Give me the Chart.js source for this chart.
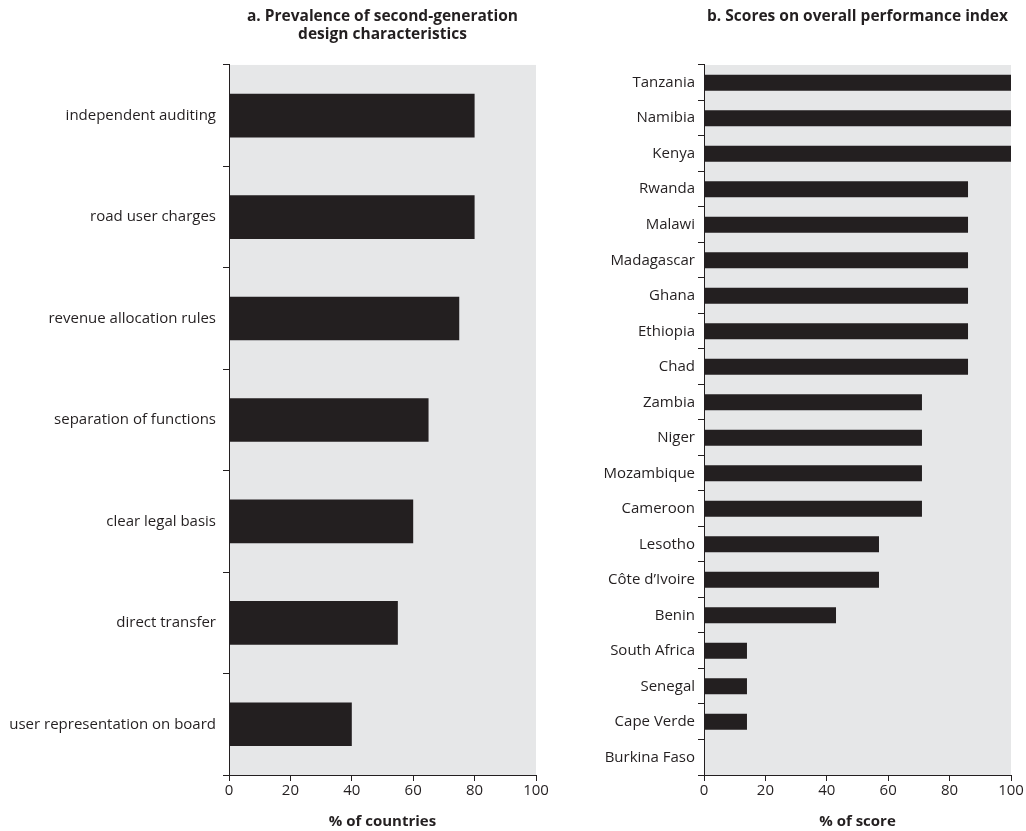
<!DOCTYPE html>
<html>
<head>
<meta charset="utf-8">
<script src="https://cdn.jsdelivr.net/npm/chart.js@4"></script>
<style>
  html, body { margin: 0; padding: 0; background: #fff; }
  #wrap { position: relative; width: 1026px; height: 831px; }
  #boxA { position: absolute; left: 0; top: 0; width: 560px; height: 831px; }
  #boxB { position: absolute; left: 540px; top: 0; width: 486px; height: 831px; }
</style>
</head>
<body>
<div id="wrap">
  <div id="boxA"><canvas id="canvasA"></canvas></div>
  <div id="boxB"><canvas id="canvasB"></canvas></div>
</div>
<script>
// panel a
var featureLabels = [
  'independent auditing',
  'road user charges',
  'revenue allocation rules',
  'separation of functions',
  'clear legal basis',
  'direct transfer',
  'user representation on board'
];
var featureValues = [80, 80, 75, 65, 60, 55, 40];

// panel b
var countryLabels = [
  'Tanzania', 'Namibia', 'Kenya', 'Rwanda', 'Malawi', 'Madagascar', 'Ghana',
  'Ethiopia', 'Chad', 'Zambia', 'Niger', 'Mozambique', 'Cameroon', 'Lesotho',
  'C\u00f4te d\u2019Ivoire', 'Benin', 'South Africa', 'Senegal', 'Cape Verde', 'Burkina Faso'
];
var countryValues = [100, 100, 100, 86, 86, 86, 86, 86, 86, 71, 71, 71, 71, 57, 57, 43, 14, 14, 14, 0];

var xTicks = [0, 20, 40, 60, 80, 100];

var barColor = '#231f20';
var panelGrey = '#e6e7e8';
var fontFamily = "'Open Sans', 'Noto Sans', sans-serif";

// grey fill behind the plot area
var panelBg = {
  id: 'panelBg',
  beforeDraw: function(chart) {
    var a = chart.chartArea;
    var ctx = chart.ctx;
    ctx.save();
    ctx.fillStyle = panelGrey;
    ctx.fillRect(a.left, a.top, a.right - a.left, a.bottom - a.top);
    ctx.restore();
  }
};

function makeChart(id, labels, values, opts) {
  var ctx = document.getElementById(id);
  return new Chart(ctx, {
    type: 'bar',
    data: {
      labels: labels,
      datasets: [{
        data: values,
        backgroundColor: barColor,
        borderWidth: 0,
        barPercentage: opts.barPct,
        categoryPercentage: 1
      }]
    },
    options: {
      indexAxis: 'y',
      responsive: true,
      maintainAspectRatio: false,
      animation: false,
      layout: { padding: { left: 0, right: opts.padRight, top: 0, bottom: 0 } },
      plugins: {
        legend: { display: false },
        tooltip: { enabled: false },
        title: {
          display: true,
          text: opts.title,
          fullSize: false,
          color: barColor,
          font: { family: fontFamily, size: 15.5, weight: 'bold', lineHeight: 1.16 },
          padding: { top: 8, bottom: opts.titleBottom }
        }
      },
      scales: {
        x: {
          min: 0,
          max: 100,
          afterBuildTicks: function(scale) {
            scale.ticks = xTicks.map(function(v) { return { value: v }; });
          },
          afterFit: function(scale) {
            scale.height = 56;
            // let the "100" label hang past the plot edge
            scale.paddingRight = 0;
          },
          grid: {
            drawOnChartArea: false,
            drawTicks: true,
            tickLength: 6,
            color: barColor,
            lineWidth: 1
          },
          border: { display: true, color: barColor, width: 1 },
          ticks: {
            color: barColor,
            padding: 1,
            font: { family: fontFamily, size: 15 }
          },
          title: {
            display: true,
            text: opts.xTitle,
            color: barColor,
            font: { family: fontFamily, size: 15, weight: 'bold' },
            padding: { top: 2, bottom: 0 }
          }
        },
        y: {
          afterFit: function(scale) { scale.width = opts.yWidth; },
          grid: {
            offset: true,
            drawOnChartArea: false,
            drawTicks: true,
            tickLength: 6,
            color: barColor,
            lineWidth: 1
          },
          border: { display: true, color: barColor, width: 1 },
          ticks: {
            color: barColor,
            padding: opts.yPad,
            autoSkip: false,
            font: { family: fontFamily, size: 15 }
          }
        }
      }
    },
    plugins: [panelBg]
  });
}

makeChart('canvasA', featureLabels, featureValues, {
  title: ['a. Prevalence of second-generation', 'design characteristics'],
  titleBottom: 21,
  xTitle: '% of countries',
  yWidth: 229,
  yPad: 7,
  padRight: 24,
  barPct: 0.43
});

makeChart('canvasB', countryLabels, countryValues, {
  title: 'b. Scores on overall performance index',
  titleBottom: 39,
  xTitle: '% of score',
  yWidth: 164,
  yPad: 3,
  padRight: 15,
  barPct: 0.45
});
</script>
</body>
</html>
